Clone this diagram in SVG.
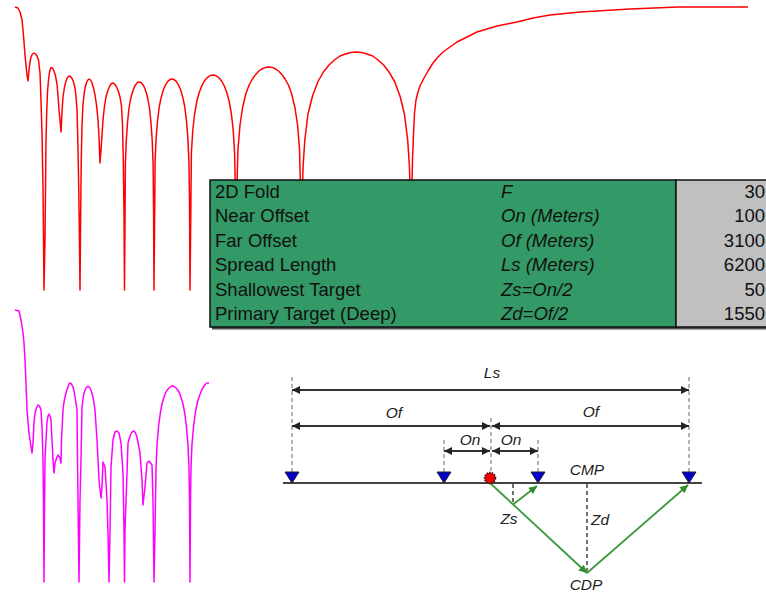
<svg xmlns="http://www.w3.org/2000/svg" width="766" height="593" viewBox="0 0 766 593">
<defs>
<style>
.curve{fill:none;stroke-width:1.5;stroke-linejoin:round}
.cell{font-family:"Liberation Sans",Arial,sans-serif;font-size:18.5px;fill:#111}
.it{font-style:italic}
.num{text-anchor:end}
.lbl{font-family:"Liberation Sans",Arial,sans-serif;font-size:15.5px;font-style:italic;fill:#222}
.mid{text-anchor:middle}
.dim{stroke:#333;stroke-width:2;fill:none;marker-start:url(#ah);marker-end:url(#ah)}
.guide{stroke:#9a9a9a;stroke-width:1.5;stroke-dasharray:4 3;fill:none}
.depth{stroke:#222;stroke-width:1.3;stroke-dasharray:4 3;fill:none}
.ray{stroke:#3a9a3a;stroke-width:1.8;fill:none;marker-end:url(#gh)}
.rcv{fill:#0000d0;stroke:#222;stroke-width:1}
</style>
<marker id="ah" viewBox="0 0 10 10" refX="10" refY="5" markerWidth="9" markerHeight="8" markerUnits="userSpaceOnUse" orient="auto-start-reverse"><path d="M0,0 L10,5 L0,10 z" fill="#222"/></marker>
<marker id="gh" viewBox="0 0 10 10" refX="10" refY="5" markerWidth="10" markerHeight="8" markerUnits="userSpaceOnUse" orient="auto"><path d="M0,0 L10,5 L0,10 z" fill="#2e8b2e"/></marker>
</defs>
<rect width="766" height="593" fill="#ffffff"/>

<g id="red-curve">
<path class="curve" stroke="#ff0000" d="M15,7 L18,8 L20,12 L22,20 L23,30 L24,42 L25,55 L26,65 L27,75 L28,81 L29,70 L30,62 L31,57 L32.5,54 L34,53 L35.5,54 L37,56 L38.5,60 L40,73 L41,100 L42,133 L43,187 L43.5,237 L44,290 L45,240 L45.5,190 L46,140 L46.8,110 L47.5,92 L48.5,80 L49.5,72 L51,67.5 L52.5,68 L54,71 L55.5,76 L57,84 L58,96 L59,110 L60,120 L61,132 L62,112 L63,97 L64.5,87 L66,81 L67.5,77.5 L69,76 L70.5,76.5 L72,78.5 L73.5,82 L75,88 L76,96 L77,110 L77.8,140 L78.5,175 L79.2,220 L80,290 L80.6,220 L81.2,165 L82,125 L83,104 L84.5,91 L86,84 L87.5,80.5 L89,79 L90.5,80 L92,83 L93.5,88 L95,95 L96.5,105 L98,120 L99,137 L100,163 L101,150 L102,135 L103,120 L104.5,106 L106,97 L108,90 L110,85.5 L112,83 L114,83.5 L116,86 L118,90 L120,97 L121.5,106 L122.5,125 L123.3,160 L124,213 L124.5,290 L125.4,164 L126.3,140 L127.5,123 L128.9,109 L130.4,100 L131.9,94 L133.4,89.4 L134.9,86 L136.3,83.8 L137.8,82.4 L139.3,82 L140.8,82.4 L142.2,83.8 L143.7,86 L145.2,89.4 L146.7,94 L148.1,100 L149.6,109 L151,123 L152.2,140 L153.1,164 L153.6,213 L154,290 L155.1,161 L156.2,137 L157.6,120 L159.4,106 L161.2,97.4 L163,91 L164.8,86.4 L166.6,83 L168.4,80.8 L170.2,79.4 L172,79 L173.8,79.4 L175.6,80.8 L177.4,83 L179.2,86.4 L181,91 L182.8,97.4 L184.6,106 L186.4,120 L187.8,137 L188.9,161 L189.5,200 L190,290 L191.4,153 L192.8,130 L194.6,114 L196.9,101 L199.2,92.5 L201.5,86.4 L203.8,82 L206.1,78.8 L208.4,76.7 L210.7,75.4 L213,75 L215.3,75.4 L217.6,76.7 L219.9,78.8 L222.2,82 L224.5,86.4 L226.8,92.5 L229.1,101 L231.4,114 L233.2,130 L234.6,153 L235.5,200 L236,290 L236.5,200 L238,149 L240,125 L242.5,108 L245.8,94 L249.1,85 L252.4,79 L255.7,74.4 L258.9,71 L262.2,68.8 L265.5,67.4 L268.7,67 L272,67.4 L275.3,68.8 L278.5,71 L281.8,74.4 L285.1,79 L288.4,85 L291.7,94 L295,108 L297.6,125 L299.5,149 L300.8,200 L301.5,290 L302.2,200 L303.1,166 L304.8,140 L308,114 L312.5,96 L318,81.5 L323.4,72 L329,65 L334.4,60 L340,56 L345.3,54 L350.8,52.5 L356.3,52 L361.7,52.5 L367,54 L372.7,56 L378,60 L383.6,65 L389,72 L394.6,81.5 L400,96 L404.4,114 L407.7,140 L409.4,166 L410.5,200 L411,290 L411.6,200 L412.5,160 L413.5,135 L414.5,113 L416,100 L418,92 L420,86 L424,78 L428,71 L433,63 L438,57 L443,52 L450,47 L457,42 L467,37 L477,32 L487,29 L497,26 L507,24 L517,22 L533,18 L550,15 L565,13.5 L580,12 L605,10.5 L630,9 L654,8 L678,7 L748,7"/>
</g>

<g id="magenta-curve">
<path class="curve" stroke="#ff00ff" d="M15,310 L19,311 L21,320 L23,333 L24,343 L25,360 L26,383 L27,410 L29,433 L31,447 L32,453 L33,443 L34,423 L35,413 L36.5,408 L38,405 L39.5,406 L41,410 L42,427 L43,460 L43.5,507 L44,582 L44.5,507 L45,460 L46,440 L47,422 L48,416 L49,414 L50,416 L51,420 L52,440 L53,460 L54,473 L55,463 L57,457 L58,455 L60,458 L61,463 L61.5,440 L63,410 L64,402 L65,397 L66.5,391 L68,387 L69,384 L70,383 L71,383.5 L72,385 L73,387 L74,391 L75,397 L76,403 L77,410 L77.5,460 L78,500 L79,582 L80,500 L81,460 L82,407 L83,399 L84,393 L86,388 L88,386 L90,388 L92,393 L93.5,400 L95,410 L97,440 L99,480 L101,498 L102,487 L103,462 L105,467 L107,500 L108,533 L109,582 L110,533 L111,467 L113,440 L115,432 L117,431 L119,433 L121,443 L123,473 L124,530 L124.5,582 L125,530 L127,473 L128,443 L130,436 L132,432 L134,431 L135.5,433 L137,437 L140,453 L142,480 L143,505 L145,487 L147,463 L149,461 L152,465 L153,500 L154,582 L155,533 L156,468 L157.1,444 L158.5,427 L160.3,413 L162,404 L163.7,398 L165.5,393 L167.2,390 L169,388 L170.8,386.5 L172.5,386 L174.2,386.5 L176,388 L177.7,390 L179.5,393 L181.2,398 L183,404 L184.7,413 L186.5,427 L187.9,444 L189,468 L189.5,500 L190,582 L190.5,500 L191,468 L192,444 L193.5,427 L195.3,413 L197,404 L198.7,398 L200.5,393 L202.2,389 L204,386 L205.5,384 L207,383 L209,383"/>
</g>

<g id="parameter-table">
<rect x="212" y="182" width="560" height="147.5" fill="#505050"/>
<rect x="210" y="180" width="466" height="147" fill="#339966" stroke="#111" stroke-width="1.5"/>
<rect x="676" y="180" width="95" height="147" fill="#c0c0c0" stroke="#111" stroke-width="1.5"/>
<g id="row-fold">
<text class="cell" x="215" y="197.5">2D Fold</text>
<text class="cell it" x="501" y="197.5">F</text>
<text class="cell num" x="765" y="197.5">30</text>
</g>
<g id="row-near">
<text class="cell" x="215" y="222">Near Offset</text>
<text class="cell it" x="501" y="222">On (Meters)</text>
<text class="cell num" x="765" y="222">100</text>
</g>
<g id="row-far">
<text class="cell" x="215" y="246.5">Far Offset</text>
<text class="cell it" x="501" y="246.5">Of (Meters)</text>
<text class="cell num" x="765" y="246.5">3100</text>
</g>
<g id="row-spread">
<text class="cell" x="215" y="271">Spread Length</text>
<text class="cell it" x="501" y="271">Ls (Meters)</text>
<text class="cell num" x="765" y="271">6200</text>
</g>
<g id="row-shallow">
<text class="cell" x="215" y="295.5">Shallowest Target</text>
<text class="cell it" x="501" y="295.5">Zs=On/2</text>
<text class="cell num" x="765" y="295.5">50</text>
</g>
<g id="row-primary">
<text class="cell" x="215" y="320">Primary Target (Deep)</text>
<text class="cell it" x="501" y="320">Zd=Of/2</text>
<text class="cell num" x="765" y="320">1550</text>
</g>
</g>

<g id="connectors">
<line class="guide" x1="292" y1="377" x2="292" y2="472"/>
<line class="guide" x1="444" y1="440" x2="444" y2="472"/>
<line class="guide" x1="491" y1="418" x2="491" y2="472"/>
<line class="guide" x1="538" y1="440" x2="538" y2="472"/>
<line class="guide" x1="689" y1="377" x2="689" y2="472"/>
<line class="dim" x1="292" y1="390" x2="689" y2="390"/>
<line class="dim" x1="292" y1="426" x2="490" y2="426"/>
<line class="dim" x1="492" y1="426" x2="689" y2="426"/>
<line class="dim" x1="444" y1="451" x2="490" y2="451"/>
<line class="dim" x1="492" y1="451" x2="538" y2="451"/>
<line class="depth" x1="513" y1="484" x2="513" y2="504"/>
<line class="depth" x1="587" y1="484" x2="587" y2="571"/>
<line class="ray" x1="490" y1="483" x2="587" y2="573"/>
<line class="ray" x1="587" y1="573" x2="688" y2="485"/>
<line class="ray" x1="513" y1="504.5" x2="537" y2="486"/>
</g>

<g id="surface">
<line x1="283" y1="483" x2="702" y2="483" stroke="#444" stroke-width="2"/>
</g>
<g id="receiver-1"><path class="rcv" d="M285,472 L299,472 L292,483 z"/></g>
<g id="receiver-2"><path class="rcv" d="M437,472 L451,472 L444,483 z"/></g>
<g id="receiver-3"><path class="rcv" d="M531,472 L545,472 L538,483 z"/></g>
<g id="receiver-4"><path class="rcv" d="M682,472 L696,472 L689,483 z"/></g>
<g id="source"><circle cx="490" cy="478" r="5.5" fill="#ee0000" stroke="#222" stroke-width="1.6" stroke-dasharray="1.5 1.2"/></g>

<g id="labels">
<text class="lbl mid" x="492" y="378">Ls</text>
<text class="lbl mid" x="394" y="418">Of</text>
<text class="lbl mid" x="591" y="417">Of</text>
<text class="lbl mid" x="470" y="445">On</text>
<text class="lbl mid" x="511" y="445">On</text>
<text class="lbl mid" x="587" y="475">CMP</text>
<text class="lbl mid" x="509" y="524">Zs</text>
<text class="lbl" x="591" y="525">Zd</text>
<text class="lbl mid" x="586" y="590">CDP</text>
</g>
</svg>
